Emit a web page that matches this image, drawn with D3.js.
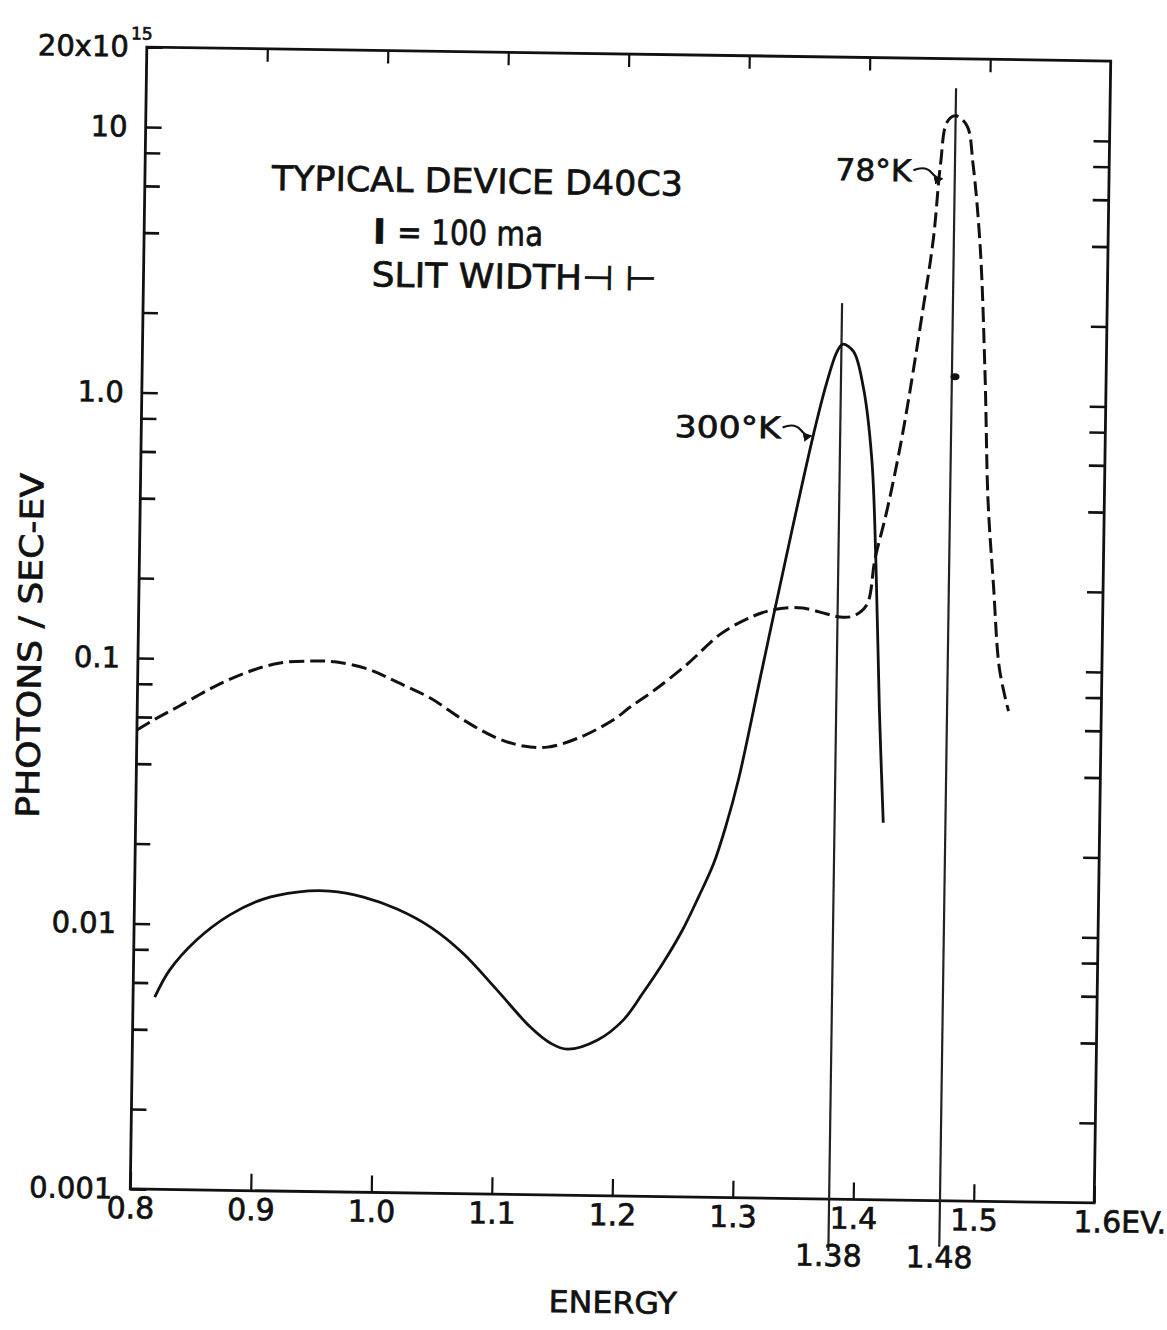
<!DOCTYPE html>
<html>
<head>
<meta charset="utf-8">
<script src="https://cdn.jsdelivr.net/npm/d3@7"></script>
<style>
    body { margin: 0; background: #fff; }
    text { font-family: "DejaVu Sans", sans-serif; fill: #111; stroke: #111; stroke-width: 0.7px; }
</style>
</head>
<body>
<div id="chart"></div>
<script>
// ---- values ----
// 300 K curve (solid)
const energy300K  = [0.818, 0.830, 0.852, 0.879, 0.907, 0.935, 0.962, 0.990, 1.018, 1.046, 1.073, 1.102,
                     1.130, 1.147, 1.161, 1.186, 1.207, 1.223, 1.240, 1.255, 1.268, 1.280, 1.290, 1.300,
                     1.317, 1.328, 1.342, 1.358, 1.368, 1.3765, 1.381, 1.390, 1.3986, 1.4065, 1.4113,
                     1.4158, 1.4204];
const photons300K = [0.00529, 0.0067, 0.00873, 0.01088, 0.01256, 0.0134, 0.01357, 0.01294, 0.01171, 0.01005, 0.00806, 0.00587,
                     0.00428, 0.00373, 0.00355, 0.00386, 0.0046, 0.00583, 0.00767, 0.0101, 0.0135, 0.0180, 0.0252, 0.038,
                     0.093, 0.166, 0.343, 0.762, 1.177, 1.558, 1.659, 1.562, 1.148, 0.6175, 0.244,
                     0.0708, 0.0263];

// 78 K curve (dashed)
const energy78K  = [0.800, 0.815, 0.835, 0.863, 0.891, 0.918, 0.945, 0.965, 0.993, 1.015, 1.043, 1.071, 1.099,
                    1.121, 1.141, 1.168, 1.195, 1.209, 1.228, 1.256, 1.283, 1.310, 1.330, 1.351, 1.371, 1.382,
                    1.393, 1.404, 1.4104, 1.420, 1.432, 1.447, 1.455, 1.460, 1.465, 1.472,
                    1.4815, 1.487, 1.494, 1.4995, 1.5035, 1.509, 1.515, 1.523];
const photons78K = [0.0535, 0.059, 0.0663, 0.0784, 0.0897, 0.0975, 0.0995, 0.099, 0.0928, 0.0839, 0.0733, 0.0608, 0.0522,
                    0.0489, 0.0486, 0.0532, 0.0620, 0.0695, 0.0801, 0.1017, 0.1323, 0.1553, 0.1657, 0.1676, 0.1596, 0.1558,
                    0.1574, 0.1734, 0.2588, 0.40, 0.78, 2.24, 4.2, 8.0, 11.55, 12.2,
                    11.2, 8.04, 3.89, 1.294, 0.434, 0.2096, 0.1013, 0.0704];

// peak marker lines
const peakEnergies = [1.380, 1.472];
const peakLabels   = ["1.38", "1.48"];
const peakLineTops = [2.37, 15.5];

// small ink dot on the 78 K marker line
const dotEnergy = [1.4746];
const dotPhotons = [1.27];

// axes
const xTickValues = [0.8, 0.9, 1.0, 1.1, 1.2, 1.3, 1.4, 1.5, 1.6];
const xTickLabels = ["0.8", "0.9", "1.0", "1.1", "1.2", "1.3", "1.4", "1.5", "1.6EV."];
const yLabelValues = [0.001, 0.01, 0.1, 1, 10, 20];
const yLabelTexts  = ["0.001", "0.01", "0.1", "1.0", "10", "20x10"];
const yMinorMultiples = [2, 4, 6, 8];

// text
const noteLines   = ["TYPICAL DEVICE D40C3", "I", "= 100 ma", "SLIT WIDTH\u22A3 \u22A2"];
const curveLabels = ["300°K", "78°K"];
const labelTipEnergy  = [1.357, 1.4625];
const labelTipPhotons = [0.74, 7.0];


class SpectrumChart {

    constructor(parentElement) {
        this.parentElement = parentElement;
        this.margin = {top: 54, right: 64.5, bottom: 134, left: 138.5};
        this.initVis();
    }

    initVis() {
        let vis = this;

        vis.outerWidth = 1167;
        vis.outerHeight = 1330;
        vis.width = vis.outerWidth - vis.margin.left - vis.margin.right;
        vis.height = vis.outerHeight - vis.margin.top - vis.margin.bottom;

        vis.root = d3.select("#" + vis.parentElement).append("svg")
            .attr("width", vis.outerWidth)
            .attr("height", vis.outerHeight);

        vis.root.append("rect")
            .attr("width", vis.outerWidth)
            .attr("height", vis.outerHeight)
            .attr("fill", "#fff");

        // arrow head for the curve labels
        vis.root.append("defs").append("marker")
            .attr("id", "arrow")
            .attr("viewBox", "0 0 10 10")
            .attr("refX", 9).attr("refY", 5)
            .attr("markerWidth", 9).attr("markerHeight", 9)
            .attr("markerUnits", "userSpaceOnUse")
            .attr("orient", "auto")
            .append("path")
            .attr("d", "M0,0 L10,5 L0,10 z")
            .attr("fill", "#111");

        // the scan is slightly tilted, so the whole figure is turned a little
        vis.svg = vis.root.append("g")
            .attr("transform", "rotate(0.83, 620.5, 625)")
            .append("g")
            .attr("transform", `translate(${vis.margin.left},${vis.margin.top})`);

        vis.x = d3.scaleLinear()
            .domain([0.8, 1.6])
            .range([0, vis.width]);

        vis.y = d3.scaleLog()
            .domain([0.001, 20])
            .range([vis.height, 0]);

        // minor ticks: 2,4,6,8 of every decade
        vis.minorTicks = [];
        yLabelValues.slice(0, 4).forEach(dec => {
            yMinorMultiples.forEach(m => vis.minorTicks.push(dec * m));
        });
        yMinorMultiples.forEach(m => { if (m * 10 < 20) vis.minorTicks.push(m * 10); });

        vis.drawAxes();
        vis.drawCurves();
        vis.drawText();
    }

    drawAxes() {
        let vis = this;
        let ink = "#111";

        // left: labels and decade ticks
        vis.svg.append("g")
            .attr("class", "y-left")
            .call(d3.axisLeft(vis.y)
                .tickValues(yLabelValues)
                .tickSizeInner(-16)
                .tickSizeOuter(0)
                .tickPadding(18)
                .tickFormat((d, i) => yLabelTexts[i]))
            .call(g => g.select(".domain").remove())
            .call(g => g.selectAll("line").attr("stroke", ink).attr("stroke-width", 2.6))
            .call(g => g.selectAll("text")
                .attr("font-size", 29)
                .attr("font-family", "DejaVu Sans")
                .attr("fill", ink));

        // exponent of the top label
        vis.svg.select(".y-left").selectAll(".tick")
            .filter(d => d === 20)
            .append("text")
            .attr("x", -16)
            .attr("y", -8)
            .attr("text-anchor", "start")
            .attr("font-size", 17)
            .text("15");

        vis.svg.append("g")
            .call(d3.axisLeft(vis.y)
                .tickValues(vis.minorTicks)
                .tickSizeInner(-15)
                .tickSizeOuter(0)
                .tickFormat(""))
            .call(g => g.select(".domain").remove())
            .call(g => g.selectAll("line").attr("stroke", ink).attr("stroke-width", 2.6));

        // right: same ticks, no labels
        vis.svg.append("g")
            .attr("transform", `translate(${vis.width},0)`)
            .call(d3.axisRight(vis.y)
                .tickValues(yLabelValues.slice(1, 5).concat(vis.minorTicks))
                .tickSizeInner(-16)
                .tickSizeOuter(0)
                .tickFormat(""))
            .call(g => g.select(".domain").remove())
            .call(g => g.selectAll("line").attr("stroke", ink).attr("stroke-width", 2.6));

        // bottom
        vis.svg.append("g")
            .attr("class", "x-bottom")
            .attr("transform", `translate(0,${vis.height})`)
            .call(d3.axisBottom(vis.x)
                .tickValues(xTickValues)
                .tickSizeInner(-17)
                .tickSizeOuter(0)
                .tickPadding(8)
                .tickFormat((d, i) => xTickLabels[i]))
            .call(g => g.select(".domain").remove())
            .call(g => g.selectAll("line").attr("stroke", ink).attr("stroke-width", 2.2))
            .call(g => g.selectAll("text")
                .attr("font-size", 30)
                .attr("font-family", "DejaVu Sans")
                .attr("fill", ink));

        vis.svg.select(".x-bottom").selectAll(".tick")
            .filter(d => d === 1.6)
            .select("text")
            .attr("text-anchor", "start")
            .attr("x", -21);

        // top
        vis.svg.append("g")
            .call(d3.axisTop(vis.x)
                .tickValues(xTickValues.slice(1, -1))
                .tickSizeInner(-13)
                .tickSizeOuter(0)
                .tickFormat(""))
            .call(g => g.select(".domain").remove())
            .call(g => g.selectAll("line").attr("stroke", ink).attr("stroke-width", 2.2));

        // frame
        vis.svg.append("rect")
            .attr("width", vis.width)
            .attr("height", vis.height)
            .attr("fill", "none")
            .attr("stroke", ink)
            .attr("stroke-width", 2.8);
    }

    drawCurves() {
        let vis = this;

        let data300 = energy300K.map((e, i) => ({e: e, v: photons300K[i]}));
        let data78 = energy78K.map((e, i) => ({e: e, v: photons78K[i]}));

        let line = d3.line()
            .x(d => vis.x(d.e))
            .y(d => vis.y(d.v))
            .curve(d3.curveCatmullRom.alpha(0.5));

        // vertical peak lines
        vis.svg.selectAll(".peak-line")
            .data(peakEnergies)
            .join("line")
            .attr("class", "peak-line")
            .attr("x1", d => vis.x(d))
            .attr("x2", d => vis.x(d))
            .attr("y1", (d, i) => vis.y(peakLineTops[i]))
            .attr("y2", (d, i) => vis.height + (i === 0 ? 52 : 46))
            .attr("stroke", "#222")
            .attr("stroke-width", 2.2);

        vis.svg.selectAll(".peak-label")
            .data(peakEnergies)
            .join("text")
            .attr("class", "peak-label")
            .attr("x", d => vis.x(d))
            .attr("y", vis.height + 67)
            .attr("text-anchor", "middle")
            .attr("font-size", 30)
            .text((d, i) => peakLabels[i]);

        vis.svg.append("path")
            .datum(data300)
            .attr("d", line)
            .attr("fill", "none")
            .attr("stroke", "#111")
            .attr("stroke-width", 2.8)
            .attr("stroke-linejoin", "round");

        vis.svg.append("path")
            .datum(data78)
            .attr("d", line)
            .attr("fill", "none")
            .attr("stroke", "#111")
            .attr("stroke-width", 3)
            .attr("stroke-dasharray", "15,6");

        vis.svg.selectAll(".ink-dot")
            .data(dotEnergy)
            .join("ellipse")
            .attr("class", "ink-dot")
            .attr("cx", d => vis.x(d))
            .attr("cy", (d, i) => vis.y(dotPhotons[i]))
            .attr("rx", 4.5)
            .attr("ry", 3.5)
            .attr("fill", "#111");
    }

    drawText() {
        let vis = this;

        // axis titles
        vis.svg.append("text")
            .attr("x", vis.width / 2 + 2)
            .attr("y", vis.height + 117)
            .attr("text-anchor", "middle")
            .attr("font-size", 30)
            .attr("textLength", 128)
            .attr("lengthAdjust", "spacingAndGlyphs")
            .text("ENERGY");

        vis.svg.append("text")
            .attr("transform", `translate(${30 - vis.margin.left},${654 - vis.margin.top}) rotate(-90)`)
            .attr("text-anchor", "middle")
            .attr("dy", "0.36em")
            .attr("font-size", 32)
            .attr("textLength", 345)
            .attr("lengthAdjust", "spacingAndGlyphs")
            .text("PHOTONS / SEC-EV");

        // device notes
        let notes = vis.svg.append("g").attr("font-size", 34);
        notes.append("text")
            .attr("x", 127).attr("y", 141)
            .attr("textLength", 411)
            .attr("lengthAdjust", "spacingAndGlyphs")
            .text(noteLines[0]);
        notes.append("text")
            .attr("x", 229).attr("y", 193)
            .attr("font-family", "DejaVu Serif")
            .attr("font-weight", "bold")
            .text(noteLines[1]);
        notes.append("text")
            .attr("x", 253).attr("y", 193)
            .attr("textLength", 146)
            .attr("lengthAdjust", "spacingAndGlyphs")
            .text(noteLines[2]);
        notes.append("text")
            .attr("x", 228).attr("y", 236)
            .attr("textLength", 285)
            .attr("lengthAdjust", "spacingAndGlyphs")
            .text(noteLines[3]);

        // curve labels with little arrows
        curveLabels.forEach((label, i) => {
            let tx = vis.x(labelTipEnergy[i]);
            let ty = vis.y(labelTipPhotons[i]);
            let sx = tx - 30;
            let sy = ty - 9;

            vis.svg.append("text")
                .attr("x", sx - 2)
                .attr("y", sy + 11)
                .attr("text-anchor", "end")
                .attr("font-size", 30)
                .attr("textLength", i === 0 ? 106 : 76)
                .attr("lengthAdjust", "spacingAndGlyphs")
                .text(label);

            vis.svg.append("path")
                .attr("d", `M${sx},${sy} Q${sx + 12},${sy - 5} ${sx + 18},${sy + 2} T${tx - 1},${ty - 1}`)
                .attr("fill", "none")
                .attr("stroke", "#111")
                .attr("stroke-width", 2)
                .attr("marker-end", "url(#arrow)");
        });
    }
}

new SpectrumChart("chart");
</script>
</body>
</html>
